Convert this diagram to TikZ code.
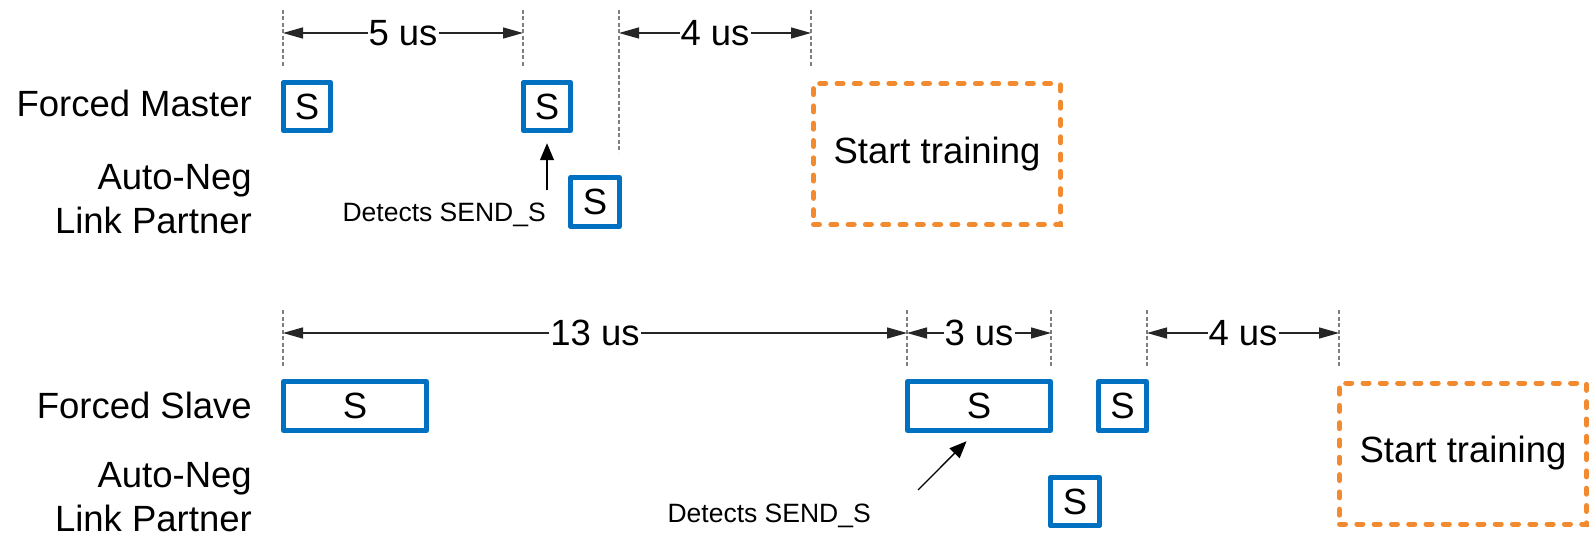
\documentclass[tikz,border=0pt]{standalone}
\usepackage{fontspec}
\setmainfont{Liberation Sans}
\usetikzlibrary{arrows.meta}
\definecolor{sblue}{HTML}{0070C0}
\definecolor{torange}{HTML}{F28A30}
\definecolor{tickgray}{HTML}{7F7F7F}

\begin{document}
\begin{tikzpicture}[x=1pt,y=-1pt,
  every node/.style={font=\fontsize{36.5}{44}\selectfont},
  rowlabel/.style={anchor=base east, align=right, inner sep=0},
  sbox/.style={draw=sblue, line width=5pt, line join=round, inner sep=0, minimum height=48.5pt},
  trainbox/.style={draw=torange, line width=5pt, dash pattern=on 6pt off 11.3pt, line cap=round,
    minimum width=247pt, minimum height=141pt, inner sep=0},
  tick/.style={draw=tickgray, line width=1.2pt, dash pattern=on 4pt off 2.5pt},
  dim/.style={draw=black!85, line width=1.3pt,
    {Triangle[length=20pt,width=11pt]}-{Triangle[length=20pt,width=11pt]}},
  dimlabel/.style={fill=white, inner xsep=1pt, inner ysep=0pt},
  note/.style={font=\fontsize{26.5}{30}\selectfont, inner sep=0, anchor=base east},
  pointer/.style={draw=black, line width=1.3pt, -{Triangle[length=17pt,width=14pt]}}
]
\useasboundingbox (0,0) rectangle (1589,537);

% ---------- upper timeline: forced master ----------
\foreach \n/\x/\yb in {ua/283/68, ub/523/68, uc/619/153, ud/811/68} {
  \coordinate (\n top) at (\x,10);
  \coordinate (\n bot) at (\x,\yb);
  \coordinate (\n) at (\x,33);
  \draw[tick] (\n top) -- (\n bot);
}
\draw[dim] (ua) -- node[dimlabel] {5 us} (ub);
\draw[dim] (uc) -- node[dimlabel] {4 us} (ud);

% row labels (base anchor = baseline of the last line)
\node[rowlabel] (fm) at (252,117) {Forced Master};
\node[rowlabel] (lpa) at (252,234) {Auto-Neg\\Link Partner};

\node[sbox, minimum width=47pt] (m1) at (307,106.5) {S};
\node[sbox, minimum width=47pt] (m2) at (547,106.5) {S};
\node[sbox, minimum width=49pt] (l1) at (595,202) {S};

\node[note] (d1) at (546,222) {Detects SEND\_S};
\coordinate (p1) at (547,190);
\draw[pointer, shorten >=10pt] (p1) -- (m2.south);

\node[trainbox] (t1) at (937,154) {Start training};

% ---------- lower timeline: forced slave ----------
\foreach \n/\x in {la/283, lb/907, lc/1051, ld/1147, le/1339} {
  \coordinate (\n top) at (\x,310);
  \coordinate (\n bot) at (\x,368);
  \coordinate (\n) at (\x,333);
  \draw[tick] (\n top) -- (\n bot);
}
\draw[dim] (la) -- node[dimlabel] {13 us} (lb);
\draw[dim] (lb) -- node[dimlabel] {3 us} (lc);
\draw[dim] (ld) -- node[dimlabel] {4 us} (le);

\node[rowlabel] (fs) at (252,418) {Forced Slave};
\node[rowlabel] (lpb) at (252,531) {Auto-Neg\\Link Partner};

\node[sbox, minimum width=143pt] (s1) at (355,406) {S};
\node[sbox, minimum width=143pt] (s2) at (979,406) {S};
\node[sbox, minimum width=48pt] (s3) at (1122.5,406) {S};
\node[sbox, minimum width=49pt] (l2) at (1075,501.5) {S};

\node[note] (d2) at (871,522) {Detects SEND\_S};
\coordinate (p2) at (918,490);
\draw[pointer, shorten >=12pt] (p2) -- ([xshift=-4pt]s2.south);

\node[trainbox] (t2) at (1463,453.5) {Start training};
\end{tikzpicture}
\end{document}
